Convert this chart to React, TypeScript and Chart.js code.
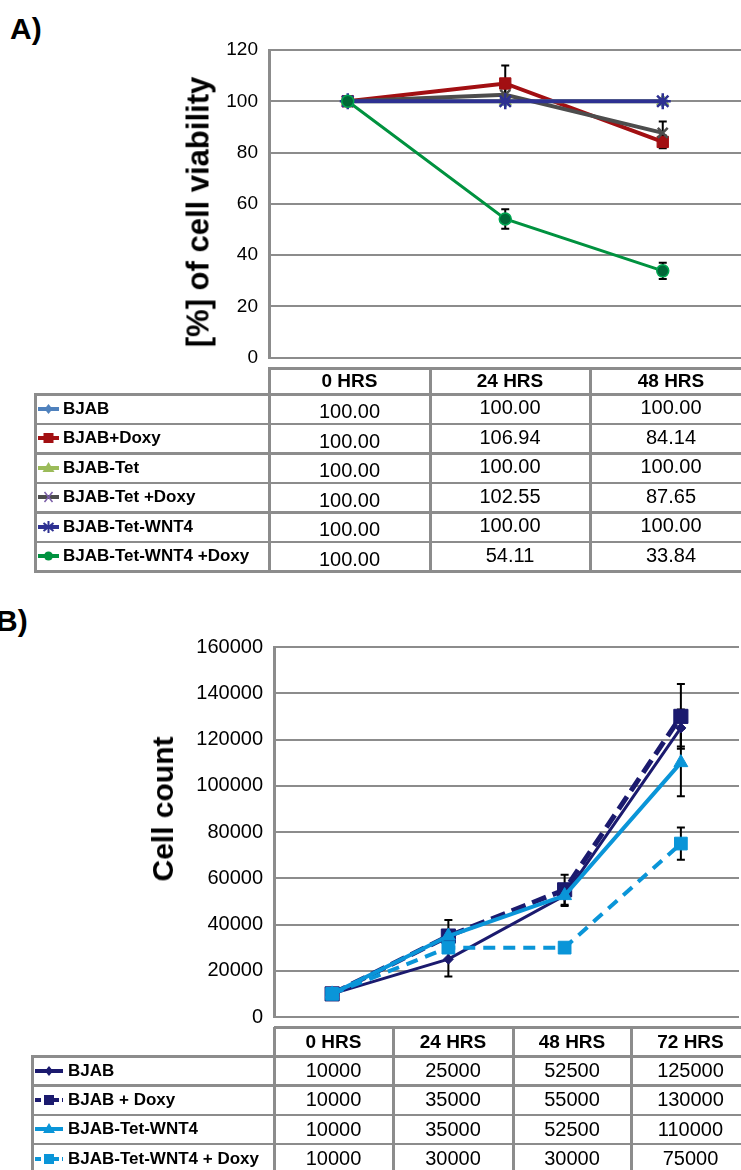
import React, { useEffect, useRef } from "react";
import { Chart, registerables } from "chart.js";

Chart.register(...registerables);

const FONT = '"Liberation Sans", Arial, Helvetica, sans-serif';
const GRID = "#8c8c8c";

// ---------- Panel A data ----------
const hoursA = ["0 HRS", "24 HRS", "48 HRS"];
const namesA = ["BJAB", "BJAB+Doxy", "BJAB-Tet", "BJAB-Tet +Doxy", "BJAB-Tet-WNT4", "BJAB-Tet-WNT4 +Doxy"];
const bjabA = [100.0, 100.0, 100.0];
const bjabDoxyA = [100.0, 106.94, 84.14];
const bjabTetA = [100.0, 100.0, 100.0];
const bjabTetDoxyA = [100.0, 102.55, 87.65];
const bjabTetWnt4A = [100.0, 100.0, 100.0];
const bjabTetWnt4DoxyA = [100.0, 54.11, 33.84];
const errBjabA = [0, 0, 0];
const errBjabDoxyA = [0, 7, 2.5];
const errBjabTetA = [0, 0, 0];
const errBjabTetDoxyA = [0, 3, 4.5];
const errBjabTetWnt4A = [0, 0, 0];
const errBjabTetWnt4DoxyA = [0, 3.8, 3.2];
const yMinA = 0;
const yMaxA = 120;
const yStepA = 20;

// ---------- Panel B data ----------
const hoursB = ["0 HRS", "24 HRS", "48 HRS", "72 HRS"];
const namesB = ["BJAB", "BJAB + Doxy", "BJAB-Tet-WNT4", "BJAB-Tet-WNT4 + Doxy"];
const bjabB = [10000, 25000, 52500, 125000];
const bjabDoxyB = [10000, 35000, 55000, 130000];
const wnt4B = [10000, 35000, 52500, 110000];
const wnt4DoxyB = [10000, 30000, 30000, 75000];
const errBjabB = [0, 7500, 4500, 8000];
const errBjabDoxyB = [0, 7000, 6500, 14000];
const errWnt4B = [0, 0, 0, 14500];
const errWnt4DoxyB = [0, 0, 0, 7000];
const yMinB = 0;
const yMaxB = 160000;
const yStepB = 20000;

// ---------- styles ----------
const NAVY_B = "#1b1a6e";
const BLUE_B = "#0a95d8";

const seriesA = [
  { name: namesA[0], values: bjabA, errors: errBjabA, line: "#4f81bd", fill: "#4f81bd", border: "#4f81bd", ps: "rectRot", r: 6, bw: 1, w: 3, dash: [], icon: "diamond" },
  { name: namesA[1], values: bjabDoxyA, errors: errBjabDoxyA, line: "#a20f12", fill: "#a20f12", border: "#a20f12", ps: "rect", r: 8, bw: 1, w: 4, dash: [], icon: "square" },
  { name: namesA[2], values: bjabTetA, errors: errBjabTetA, line: "#9bbb59", fill: "#9bbb59", border: "#9bbb59", ps: "triangle", r: 7, bw: 1, w: 4, dash: [], icon: "triangle" },
  { name: namesA[3], values: bjabTetDoxyA, errors: errBjabTetDoxyA, line: "#4d4d4d", fill: "#4d4d4d", border: "#4d4d4d", ps: "crossRot", r: 7, bw: 2.5, w: 4, dash: [], icon: "x" },
  { name: namesA[4], values: bjabTetWnt4A, errors: errBjabTetWnt4A, line: "#2e3192", fill: "#2e3192", border: "#2e3192", ps: "star", r: 8, bw: 2.5, w: 4, dash: [], icon: "star" },
  { name: namesA[5], values: bjabTetWnt4DoxyA, errors: errBjabTetWnt4DoxyA, line: "#00923f", fill: "#006837", border: "#00a651", ps: "circle", r: 6, bw: 1.5, w: 3, dash: [], icon: "circle" },
];

const seriesB = [
  { name: namesB[0], values: bjabB, errors: errBjabB, line: NAVY_B, fill: NAVY_B, border: NAVY_B, ps: "rectRot", r: 5, bw: 1, w: 3, dash: [], icon: "diamond" },
  { name: namesB[1], values: bjabDoxyB, errors: errBjabDoxyB, line: NAVY_B, fill: NAVY_B, border: NAVY_B, ps: "rect", r: 10, bw: 1, w: 5, dash: [15, 7], icon: "square" },
  { name: namesB[2], values: wnt4B, errors: errWnt4B, line: BLUE_B, fill: BLUE_B, border: BLUE_B, ps: "triangle", r: 8, bw: 1, w: 4, dash: [], icon: "triangle" },
  { name: namesB[3], values: wnt4DoxyB, errors: errWnt4DoxyB, line: BLUE_B, fill: BLUE_B, border: BLUE_B, ps: "rect", r: 9, bw: 1, w: 4, dash: [12, 8], icon: "square" },
];

const errorBarPlugin = {
  id: "errorBars",
  beforeDatasetsDraw(chart: any) {
    const ctx = chart.ctx;
    const y = chart.scales.y;
    ctx.save();
    ctx.strokeStyle = "#000";
    ctx.lineWidth = 2;
    chart.data.datasets.forEach((ds: any, di: number) => {
      const meta = chart.getDatasetMeta(di);
      (ds.errors || []).forEach((e: number, i: number) => {
        if (!e) return;
        const v = ds.data[i];
        const px = meta.data[i].x;
        const top = y.getPixelForValue(v + e);
        const bot = y.getPixelForValue(v - e);
        ctx.beginPath();
        ctx.moveTo(px, top);
        ctx.lineTo(px, bot);
        ctx.moveTo(px - 4, top);
        ctx.lineTo(px + 4, top);
        ctx.moveTo(px - 4, bot);
        ctx.lineTo(px + 4, bot);
        ctx.stroke();
      });
    });
    ctx.restore();
  },
};

function makeConfig(
  labels: string[],
  series: any[],
  yMin: number,
  yMax: number,
  yStep: number,
  tickSize: number,
  padLeft: number,
  axisWidth: number,
  padTop: number,
  padBottom: number
): any {
  return {
    type: "line",
    data: {
      labels,
      datasets: series.map((s, i) => ({
        label: s.name,
        data: s.values,
        errors: s.errors,
        borderColor: s.line,
        backgroundColor: s.fill,
        pointBackgroundColor: s.fill,
        pointBorderColor: s.border,
        pointBorderWidth: s.bw,
        pointStyle: s.ps,
        pointRadius: s.r,
        borderWidth: s.w,
        borderDash: s.dash,
        tension: 0,
        fill: false,
        order: series.length - i,
      })),
    },
    options: {
      animation: false,
      responsive: false,
      devicePixelRatio: 1,
      events: [],
      layout: { padding: { left: padLeft, top: padTop, bottom: padBottom, right: 0 } },
      plugins: { legend: { display: false }, tooltip: { enabled: false }, title: { display: false } },
      scales: {
        x: { type: "category", display: false, offset: true },
        y: {
          min: yMin,
          max: yMax,
          ticks: {
            stepSize: yStep,
            padding: 11,
            color: "#000",
            font: { family: FONT, size: tickSize },
            callback: (v: any) => String(v),
          },
          grid: { color: GRID, lineWidth: 2, drawTicks: false },
          border: { color: GRID, width: 3 },
          afterFit: (s: any) => {
            s.width = axisWidth;
          },
        },
      },
    },
    plugins: [errorBarPlugin],
  };
}

function LineCanvas({ config, left, top, width, height }: any) {
  const ref = useRef<HTMLCanvasElement>(null);
  useEffect(() => {
    const chart = new Chart(ref.current as HTMLCanvasElement, config);
    return () => chart.destroy();
  }, []);
  return (
    <canvas
      ref={ref}
      width={width}
      height={height}
      style={{ position: "absolute", left, top, width, height, display: "block" }}
    />
  );
}

function LegendIcon({ color, shape, width, dashed }: any) {
  const h = 14;
  const cy = 7;
  const cx = width / 2;
  let marker: any = null;
  if (shape === "diamond") {
    marker = <polygon points={`${cx},${cy - 5} ${cx + 4},${cy} ${cx},${cy + 5} ${cx - 4},${cy}`} fill={color} />;
  } else if (shape === "square") {
    marker = <rect x={cx - 5} y={cy - 5} width={10} height={10} fill={color} />;
  } else if (shape === "triangle") {
    marker = <polygon points={`${cx},${cy - 6} ${cx + 6},${cy + 4} ${cx - 6},${cy + 4}`} fill={color} />;
  } else if (shape === "x") {
    marker = (
      <g stroke="#7b5ea7" strokeWidth={1.5}>
        <line x1={cx - 4} y1={cy - 5} x2={cx + 4} y2={cy + 5} />
        <line x1={cx + 4} y1={cy - 5} x2={cx - 4} y2={cy + 5} />
      </g>
    );
  } else if (shape === "star") {
    marker = (
      <g stroke={color} strokeWidth={2}>
        <line x1={cx} y1={cy - 6} x2={cx} y2={cy + 6} />
        <line x1={cx - 5} y1={cy - 4} x2={cx + 5} y2={cy + 4} />
        <line x1={cx + 5} y1={cy - 4} x2={cx - 5} y2={cy + 4} />
      </g>
    );
  } else if (shape === "circle") {
    marker = <circle cx={cx} cy={cy} r={4.5} fill={color} />;
  }
  return (
    <svg width={width} height={h} style={{ display: "block", flex: "none" }}>
      <line x1={0} y1={cy} x2={width} y2={cy} stroke={color} strokeWidth={4} strokeDasharray={dashed ? "6 3" : undefined} />
      {marker}
    </svg>
  );
}

function DataTable({ hours, series, fmt, geo }: any) {
  const { labelLeft, cols, plotBottom, headTop, rowTop, rowH, iconLeft, textLeft, iconW, colOffsets } = geo;
  const n = series.length;
  const bottom = rowTop + n * rowH;
  const right = cols[cols.length - 1];
  const items: any[] = [];
  items.push(<div key="ht" style={{ position: "absolute", left: cols[0], top: headTop - 1.5, width: right - cols[0], height: 3, background: GRID }} />);
  for (let k = 0; k <= n; k++) {
    const y = rowTop + k * rowH;
    items.push(<div key={"h" + k} style={{ position: "absolute", left: labelLeft - 1.5, top: y - 1, width: right - labelLeft, height: 2.5, background: GRID }} />);
  }
  items.push(<div key="vl" style={{ position: "absolute", left: labelLeft - 1.5, top: rowTop - 1, width: 3, height: bottom - rowTop + 2, background: GRID }} />);
  cols.forEach((x: number, ci: number) => {
    const t = ci === 0 ? plotBottom : headTop;
    items.push(<div key={"v" + ci} style={{ position: "absolute", left: x - 1.5, top: t, width: 3, height: bottom - t + 1, background: GRID }} />);
  });
  hours.forEach((h: string, ci: number) => {
    items.push(
      <div
        key={"hd" + ci}
        style={{
          position: "absolute", left: cols[ci], top: headTop, width: cols[ci + 1] - cols[ci], height: rowTop - headTop,
          display: "flex", alignItems: "center", justifyContent: "center",
          fontWeight: "bold", fontSize: 19, color: "#000",
        }}
      >
        {h}
      </div>
    );
  });
  series.forEach((s: any, ri: number) => {
    const y = rowTop + ri * rowH;
    items.push(
      <div
        key={"lb" + ri}
        style={{
          position: "absolute", left: iconLeft, top: y, width: cols[0] - iconLeft, height: rowH,
          display: "flex", alignItems: "center", fontWeight: "bold", fontSize: 17, color: "#000", whiteSpace: "nowrap",
        }}
      >
        <LegendIcon color={s.line} shape={s.icon} width={iconW} dashed={s.dash.length > 0} />
        <span style={{ position: "absolute", left: textLeft - iconLeft }}>{s.name}</span>
      </div>
    );
    s.values.forEach((v: number, ci: number) => {
      items.push(
        <div
          key={"c" + ri + "_" + ci}
          style={{
            position: "absolute", left: cols[ci], top: y + colOffsets[ci], width: cols[ci + 1] - cols[ci], height: rowH,
            display: "flex", alignItems: "center", justifyContent: "center", fontSize: 20, color: "#000",
          }}
        >
          {fmt(v)}
        </div>
      );
    });
  });
  return <>{items}</>;
}

const geoA = {
  labelLeft: 35, cols: [269, 430, 590, 752], plotBottom: 367, headTop: 368, rowTop: 394, rowH: 29.5,
  iconLeft: 38, textLeft: 63, iconW: 21, colOffsets: [3, -1, -1],
};
const geoB = {
  labelLeft: 32, cols: [274, 393, 513, 631, 750], plotBottom: 1027, headTop: 1027, rowTop: 1056, rowH: 29.3,
  iconLeft: 35, textLeft: 68, iconW: 28, colOffsets: [0, 0, 0, 0],
};

export default function App() {
  const configA = makeConfig(hoursA, seriesA, yMinA, yMaxA, yStepA, 19, 180, 89, 50, 13);
  const configB = makeConfig(hoursB, seriesB, yMinB, yMaxB, yStepB, 20, 184, 90, 47, 13);
  const rot = (cx: number, cy: number, size: number): any => ({
    position: "absolute", left: cx, top: cy, transform: "translate(-50%, -50%) rotate(-90deg)",
    whiteSpace: "nowrap", fontWeight: "bold", fontSize: size, lineHeight: size + "px", color: "#000",
  });
  return (
    <div
      style={{
        position: "absolute", left: 0, top: 0, width: 741, height: 1170, overflow: "hidden",
        background: "#fff", fontFamily: FONT, color: "#000",
      }}
    >
      <div style={{ position: "absolute", left: 10, top: 14, fontWeight: "bold", fontSize: 30, lineHeight: "30px" }}>A)</div>
      <div style={{ position: "absolute", left: -4, top: 606, fontWeight: "bold", fontSize: 30, lineHeight: "30px" }}>B)</div>
      <LineCanvas config={configA} left={0} top={0} width={752} height={380} />
      <LineCanvas config={configB} left={0} top={600} width={750} height={440} />
      <div style={rot(198, 212, 31)}>[%] of cell viability</div>
      <div style={rot(163, 809, 30)}>Cell count</div>
      <DataTable hours={hoursA} series={seriesA} fmt={(v: number) => v.toFixed(2)} geo={geoA} />
      <DataTable hours={hoursB} series={seriesB} fmt={(v: number) => String(v)} geo={geoB} />
    </div>
  );
}
